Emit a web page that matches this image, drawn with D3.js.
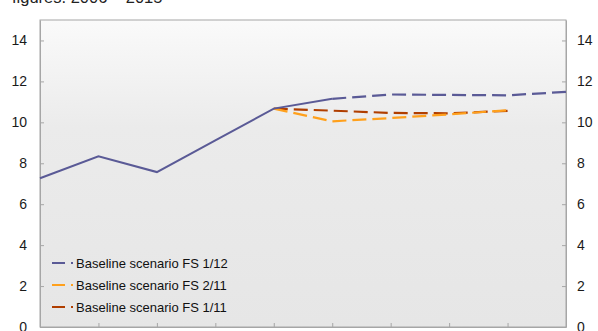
<!DOCTYPE html>
<html>
<head>
<meta charset="utf-8">
<script src="https://cdn.jsdelivr.net/npm/d3@7/dist/d3.min.js"></script>
<style>
  html, body { margin: 0; padding: 0; background: #ffffff; }
  svg { display: block; font-family: Arial, "Liberation Sans", sans-serif; }
</style>
</head>
<body>
<svg id="chart" width="598" height="331"></svg>
<script>
// ---- Data ----
const titleText = "figures. 2006 \u2013 2015";
const years = ["2006","2007","2008","2009","2010","2011","2012","2013","2014","2015"];
const seriesNames = ["Baseline scenario FS 1/12", "Baseline scenario FS 2/11", "Baseline scenario FS 1/11"];
const fs112 = [7.27, 8.34, 7.57, 9.12, 10.67, 11.15, 11.36, 11.34, 11.32, 11.49];
const fs211 = [null, null, null, null, 10.67, 10.05, 10.21, 10.39, 10.59, null];
const fs111 = [null, null, null, null, 10.67, 10.57, 10.46, 10.44, 10.56, null];
const lastActualYear = "2011";
const yTicks = [0, 2, 4, 6, 8, 10, 12, 14];
const seriesColors = ["#5a5a96", "#ffa01c", "#b03e00"];

// ---- Layout ----
const svg = d3.select("#chart");
const L = 40, R = 566, T = 20, B = 327;
const x = d3.scalePoint().domain(years).range([L, R]);
const y = d3.scaleLinear().domain([0, 15]).range([B, T]);

// background gradient
const defs = svg.append("defs");
const grad = defs.append("linearGradient").attr("id", "bg").attr("x1", 0).attr("y1", 0).attr("x2", 0).attr("y2", 1);
grad.append("stop").attr("offset", "0%").attr("stop-color", "#fafafa");
grad.append("stop").attr("offset", "35%").attr("stop-color", "#ebebeb");
grad.append("stop").attr("offset", "100%").attr("stop-color", "#e6e6e6");

svg.append("rect").attr("x", L).attr("y", T).attr("width", R - L).attr("height", B - T)
  .attr("fill", "url(#bg)").attr("stroke", "#a6a6a6").attr("stroke-width", 1);

// title (partially cut off, as in the reference)
svg.append("text").attr("x", 12).attr("y", 3).attr("font-size", 16.5).attr("fill", "#222")
  .text(titleText);

// axes
const axisL = d3.axisLeft(y).tickValues(yTicks).tickSizeInner(-4).tickSizeOuter(0).tickPadding(13);
const axisR = d3.axisRight(y).tickValues(yTicks).tickSizeInner(-4).tickSizeOuter(0).tickPadding(11);
const axisB = d3.axisBottom(x).tickSizeInner(-4).tickSizeOuter(0).tickFormat("");

function styleAxis(g) {
  g.select(".domain").attr("stroke", "#a6a6a6");
  g.selectAll(".tick line").attr("stroke", "#a6a6a6");
  g.selectAll(".tick text").attr("fill", "#1a1a1a").attr("font-size", 14).attr("font-family", "Arial, 'Liberation Sans', sans-serif");
}
svg.append("g").attr("transform", `translate(${L},0)`).call(axisL).call(styleAxis);
svg.append("g").attr("transform", `translate(${R},0)`).call(axisR).call(styleAxis);
svg.append("g").attr("transform", `translate(0,${B})`).call(axisB).call(styleAxis);

// lines
const toPts = arr => years.map((yr, i) => ({yr, v: arr[i], i})).filter(d => d.v !== null);
const line = d3.line().x(d => x(d.yr)).y(d => y(d.v));
const dash = "14,6";

// FS 1/11 (red)
svg.append("path").datum(toPts(fs111)).attr("d", line).attr("fill", "none")
  .attr("stroke", seriesColors[2]).attr("stroke-width", 2.2).attr("stroke-dasharray", dash);
// FS 2/11 (orange)
svg.append("path").datum(toPts(fs211)).attr("d", line).attr("fill", "none")
  .attr("stroke", seriesColors[1]).attr("stroke-width", 2.2).attr("stroke-dasharray", dash);
// FS 1/12 (blue): solid through last actual year, dashed after
const iSplit = years.indexOf(lastActualYear);
const bluePts = toPts(fs112);
svg.append("path").datum(bluePts.filter(d => d.i <= iSplit)).attr("d", line).attr("fill", "none")
  .attr("stroke", seriesColors[0]).attr("stroke-width", 2);
svg.append("path").datum(bluePts.filter(d => d.i >= iSplit)).attr("d", line).attr("fill", "none")
  .attr("stroke", seriesColors[0]).attr("stroke-width", 2.2).attr("stroke-dasharray", dash);

// legend
const leg = svg.append("g");
seriesNames.forEach((name, k) => {
  const cy = 263 + k * 22;
  leg.append("line").attr("x1", 52).attr("x2", 65).attr("y1", cy).attr("y2", cy)
    .attr("stroke", seriesColors[k]).attr("stroke-width", 2);
  leg.append("line").attr("x1", 71).attr("x2", 73).attr("y1", cy).attr("y2", cy)
    .attr("stroke", seriesColors[k]).attr("stroke-width", 2);
  leg.append("text").attr("x", 76).attr("y", cy).attr("dy", "0.35em")
    .attr("font-size", 13).attr("fill", "#111").text(name);
});
</script>
</body>
</html>
